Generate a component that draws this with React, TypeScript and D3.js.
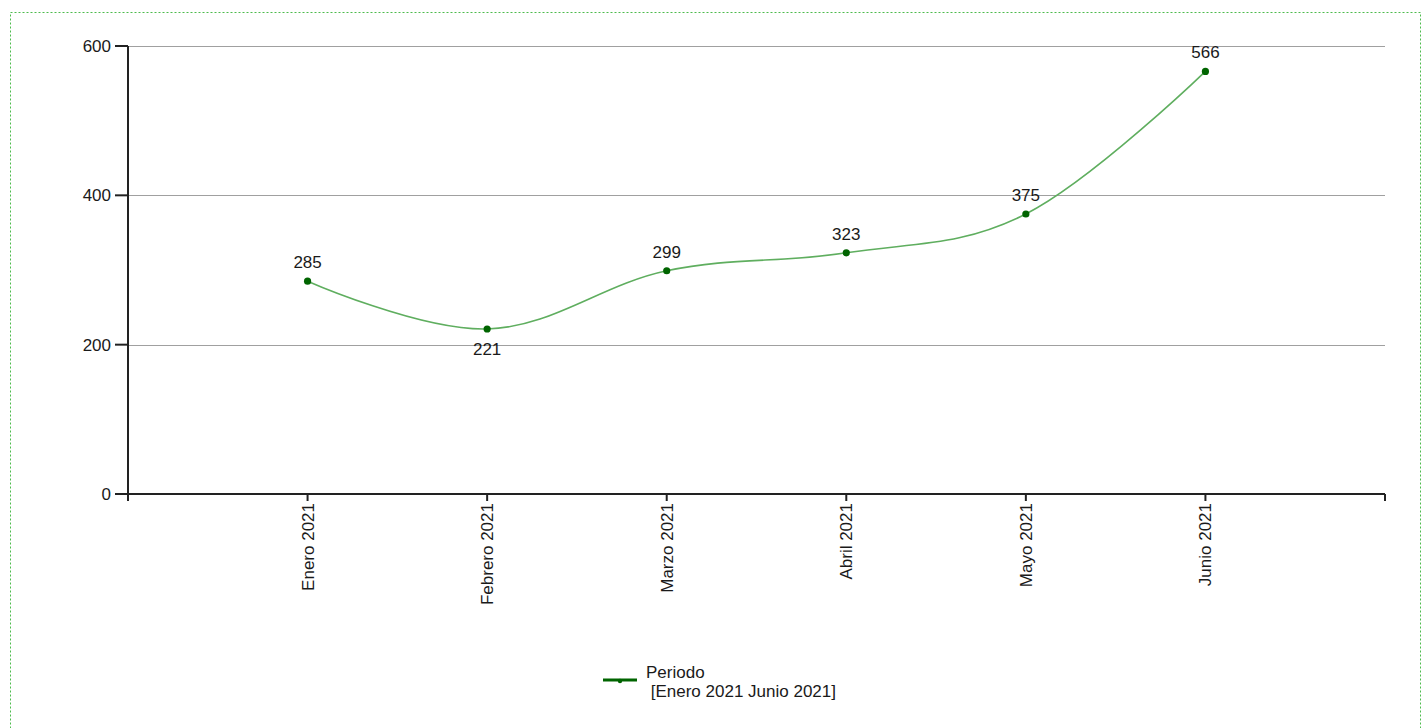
import React from "react";
import * as d3 from "d3";

const categories = ["Enero 2021", "Febrero 2021", "Marzo 2021", "Abril 2021", "Mayo 2021", "Junio 2021"];
const values = [285, 221, 299, 323, 375, 566];
const yTicks = [0, 200, 400, 600];
const seriesName = "Periodo";
const seriesSubtitle = " [Enero 2021 Junio 2021]";

const W = 1427;
const H = 728;
const left = 128;
const right = 1385;
const top = 46;
const bottom = 494;
const FONT = "'Liberation Sans', Arial, sans-serif";
const FS = 17;

export default function App() {
  const x = d3.scalePoint<string>().domain(categories).range([left, right]).padding(1);
  const y = d3.scaleLinear().domain([0, 600]).range([bottom, top]);
  const line = d3
    .line<number>()
    .x((_, i) => x(categories[i])!)
    .y((d) => y(d))
    .curve(d3.curveCardinal.tension(-0.1));
  const path = line(values) || "";

  const isLocalMin = (i: number) =>
    i > 0 && i < values.length - 1 && values[i] < values[i - 1] && values[i] < values[i + 1];

  return (
    <svg
      width={W}
      height={H}
      style={{ position: "fixed", left: 0, top: 0, display: "block", background: "#fff" }}
    >
      <rect x={10.5} y={12.5} width={1410} height={730} fill="none" stroke="#4cbb4c" strokeWidth={1} strokeDasharray="2,2" />
      {yTicks.filter((t) => t !== 0).map((t) => (
        <line key={"g" + t} x1={left} x2={right} y1={Math.round(y(t)) + 0.5} y2={Math.round(y(t)) + 0.5} stroke="#a0a0a0" strokeWidth={1} />
      ))}
      <line x1={left} x2={left} y1={top} y2={bottom + 7} stroke="#222" strokeWidth={2} />
      {yTicks.map((t) => (
        <g key={"y" + t}>
          <line x1={left - 13} x2={left} y1={y(t)} y2={y(t)} stroke="#222" strokeWidth={2} />
          <text x={left - 17} y={y(t) + 6} textAnchor="end" fontSize={FS} fontFamily={FONT} fill="#1a1a1a">
            {t}
          </text>
        </g>
      ))}
      <line x1={left} x2={right} y1={bottom} y2={bottom} stroke="#222" strokeWidth={2} />
      <line x1={right} x2={right} y1={bottom} y2={bottom + 7} stroke="#222" strokeWidth={2} />
      {categories.map((c) => (
        <g key={c}>
          <line x1={x(c)} x2={x(c)} y1={bottom} y2={bottom + 7} stroke="#222" strokeWidth={2} />
          <text
            transform={`translate(${x(c)! + 6},${bottom + 9}) rotate(-90)`}
            textAnchor="end"
            fontSize={FS}
            fontFamily={FONT}
            fill="#1a1a1a"
          >
            {c}
          </text>
        </g>
      ))}
      <path d={path} fill="none" stroke="#5fae5f" strokeWidth={1.6} />
      {values.map((v, i) => (
        <g key={"p" + i}>
          <circle cx={x(categories[i])} cy={y(v)} r={3.6} fill="#006400" />
          <text
            x={x(categories[i])}
            y={isLocalMin(i) ? y(v) + 26 : y(v) - 13}
            textAnchor="middle"
            fontSize={FS}
            fontFamily={FONT}
            fill="#1a1a1a"
          >
            {v}
          </text>
        </g>
      ))}
      <line x1={603} x2={637} y1={680} y2={680} stroke="#006400" strokeWidth={3} />
      <circle cx={620} cy={681} r={2.2} fill="#006400" />
      <text x={646} y={678} fontSize={FS} fontFamily={FONT} fill="#1a1a1a">
        {seriesName}
      </text>
      <text x={646} y={697} fontSize={FS} fontFamily={FONT} fill="#1a1a1a" style={{ whiteSpace: "pre" }}>
        {seriesSubtitle}
      </text>
    </svg>
  );
}
